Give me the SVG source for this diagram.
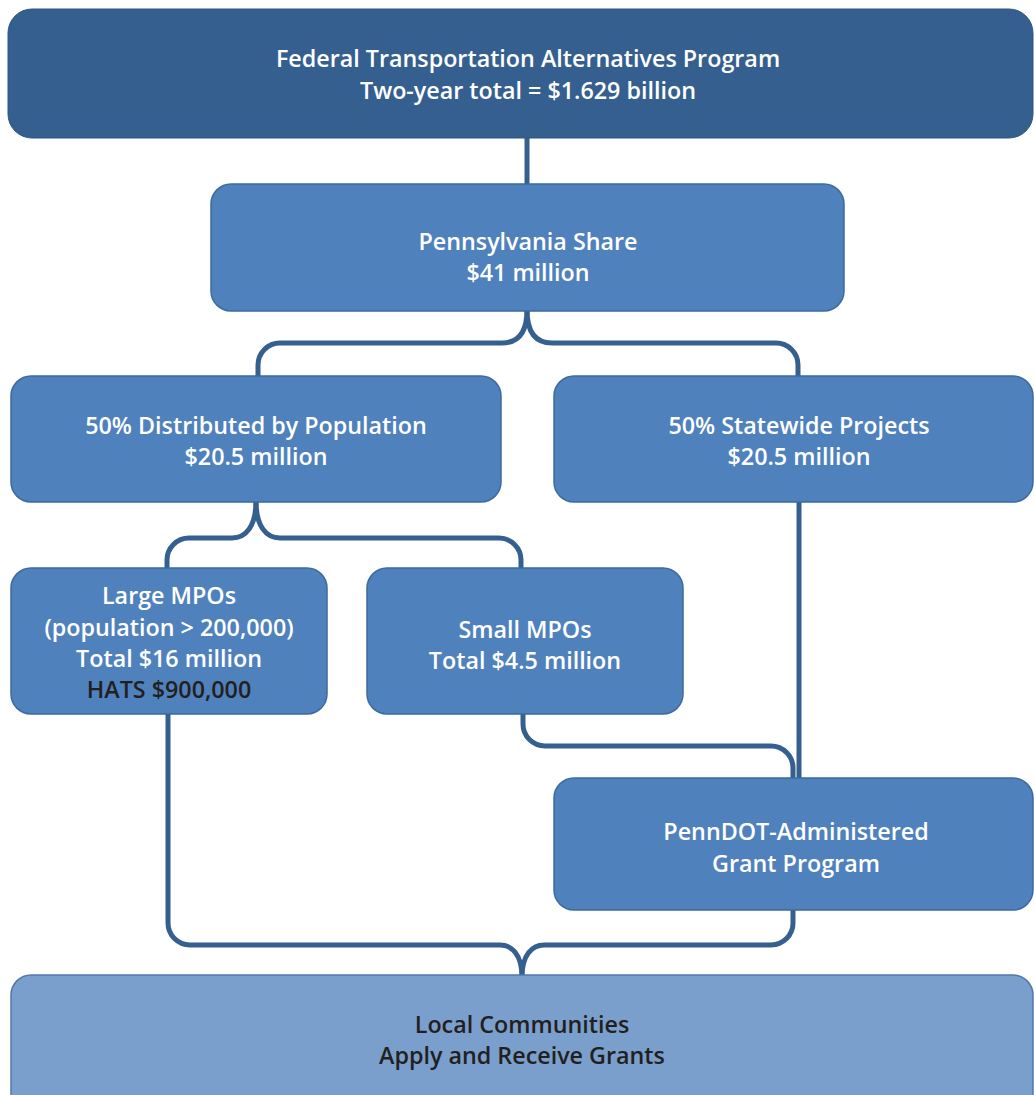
<svg xmlns="http://www.w3.org/2000/svg" width="1034" height="1095" viewBox="0 0 1034 1095">
<style>
.box{fill:#4f81bd;stroke:#3d6a9f;stroke-width:1.5}
.top{fill:#355f8f;stroke:#2f5680;stroke-width:1}
.local{fill:#7a9fcc;stroke:#4f78a8;stroke-width:1.5}
.conn{fill:none;stroke:#355f8f;stroke-width:5;stroke-linecap:butt}
text{font-family:"Open Sans","Liberation Sans",sans-serif;font-weight:600;font-size:23.3px;text-anchor:middle;fill:#ffffff}
.dark{fill:#231f20}
</style>
<rect width="1034" height="1095" fill="#ffffff"/>
<g id="connectors">
<path class="conn" d="M527,138 V186"/>
<path class="conn" d="M527,310 C527,334 517,343 502,343 H280 A22 22 0 0 0 258,365 V378"/>
<path class="conn" d="M527,310 C527,334 537,343 552,343 H776 A22 22 0 0 1 798,365 V378"/>
<path class="conn" d="M256,501 C256,526 246,538 232,538 H189 A22 22 0 0 0 167,560 V570"/>
<path class="conn" d="M256,501 C256,526 266,538 280,538 H499 A22 22 0 0 1 521,560 V570"/>
<path class="conn" d="M799,501 V780"/>
<path class="conn" d="M523,713 V724 A22 22 0 0 0 545,746 H771 A22 22 0 0 1 793,768 V780"/>
<path class="conn" d="M168,713 V923 A22 22 0 0 0 190,945 H500 C512,945 522,955 522,977"/>
<path class="conn" d="M793,909 V923 A22 22 0 0 1 771,945 H544 C532,945 522,955 522,977"/>
</g>
<g id="node-federal">
<rect class="top" x="8" y="9" width="1025" height="129" rx="24"/>
<text x="528" y="67">Federal Transportation Alternatives Program</text>
<text x="528" y="99">Two-year total = $1.629 billion</text>
</g>
<g id="node-pa">
<rect class="box" x="211" y="184" width="633" height="127" rx="20"/>
<text x="528" y="250">Pennsylvania Share</text>
<text x="528" y="281">$41 million</text>
</g>
<g id="node-population">
<rect class="box" x="11" y="376" width="490" height="126" rx="20"/>
<text x="256" y="434">50% Distributed by Population</text>
<text x="256" y="465">$20.5 million</text>
</g>
<g id="node-statewide">
<rect class="box" x="554" y="376" width="479" height="126" rx="20"/>
<text x="799" y="434">50% Statewide Projects</text>
<text x="799" y="465">$20.5 million</text>
</g>
<g id="node-large">
<rect class="box" x="11" y="568" width="316" height="146" rx="20"/>
<text x="169" y="604">Large MPOs</text>
<text x="169" y="636">(population &gt; 200,000)</text>
<text x="169" y="667">Total $16 million</text>
<text x="169" y="698" class="dark">HATS $900,000</text>
</g>
<g id="node-small">
<rect class="box" x="367" y="568" width="316" height="146" rx="20"/>
<text x="525" y="638">Small MPOs</text>
<text x="525" y="669">Total $4.5 million</text>
</g>
<g id="node-penndot">
<rect class="box" x="554" y="778" width="479" height="132" rx="20"/>
<text x="796" y="840">PennDOT-Administered</text>
<text x="796" y="872">Grant Program</text>
</g>
<g id="node-local">
<rect class="local" x="11" y="975" width="1022" height="140" rx="20"/>
<text x="522" y="1033" class="dark">Local Communities</text>
<text x="522" y="1064" class="dark">Apply and Receive Grants</text>
</g>
</svg>
